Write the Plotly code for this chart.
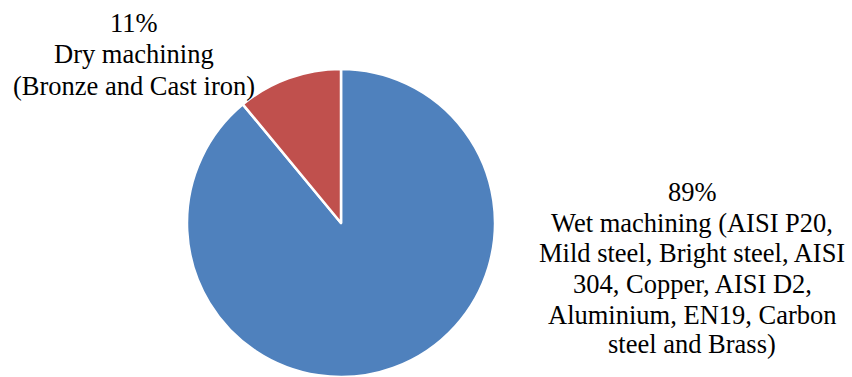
import plotly.graph_objects as go

# Data
categories = ["Wet machining", "Dry machining"]
values = [89, 11]
colors = ["#4F81BD", "#C0504D"]
label_lines = {
    "Wet machining": ["89%", "Wet machining (AISI P20,", "Mild steel, Bright steel, AISI",
                      "304, Copper, AISI D2,", "Aluminium, EN19, Carbon", "steel and Brass)"],
    "Dry machining": ["11%", "Dry machining", "(Bronze and Cast iron)"],
}

W, H = 852, 377
FONT = dict(family="'Times New Roman', 'Liberation Serif', 'DejaVu Serif', serif",
            size=26.5, color="#000000")

fig = go.Figure(go.Pie(
    labels=categories,
    values=values,
    marker=dict(colors=colors, line=dict(color="white", width=2.5)),
    sort=False,
    direction="clockwise",
    rotation=0,
    textinfo="none",
    hoverinfo="label+percent",
    domain=dict(x=[186 / W, 496 / W], y=[0, 1 - 69 / H]),
    showlegend=False,
))

# label line placements (pixel centres)
placements = {
    "Wet machining": (692, [192, 223, 253, 284, 315, 344]),
    "Dry machining": (134, [23, 54, 86]),
}
for cat in categories:
    cx, ys = placements[cat]
    for line, yc in zip(label_lines[cat], ys):
        fig.add_annotation(
            text=line, x=cx / W, y=1 - yc / H, xref="paper", yref="paper",
            xanchor="center", yanchor="middle", showarrow=False, font=FONT,
        )

fig.update_layout(
    width=W, height=H, autosize=False,
    margin=dict(l=0, r=0, t=0, b=0),
    font=FONT,
    paper_bgcolor="white", plot_bgcolor="white",
)

fig.write_html("out.html")
